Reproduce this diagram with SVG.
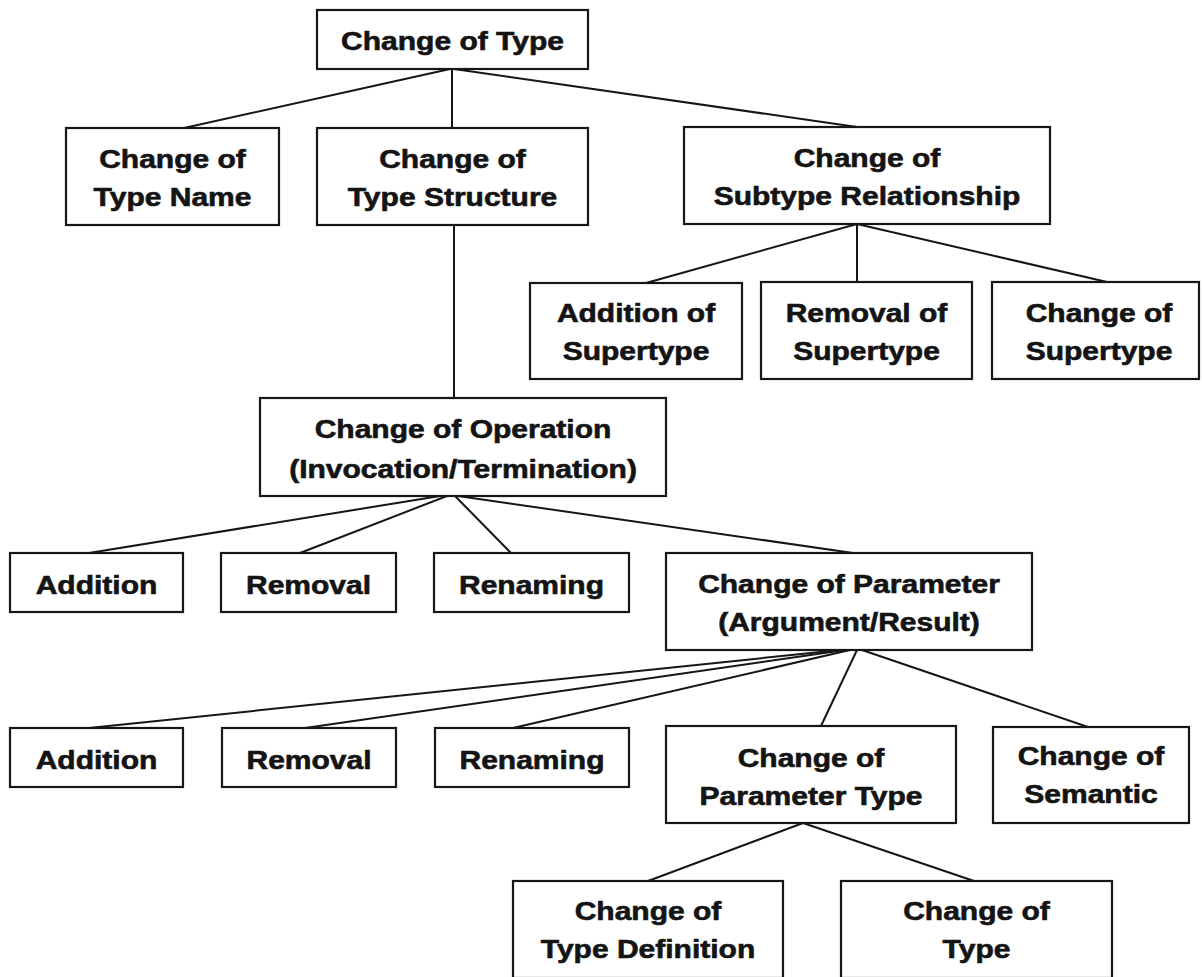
<svg xmlns="http://www.w3.org/2000/svg" width="1202" height="977" viewBox="0 0 1202 977">
<style>
  rect.box { fill: #ffffff; stroke: #161616; stroke-width: 2.2; }
  text { font-family: "Liberation Sans", Arial, sans-serif; font-weight: bold; font-size: 25px; fill: #141414; stroke: #141414; stroke-width: 0.6; text-anchor: middle; }
  .edges line { stroke: #161616; stroke-width: 2; }
</style>
<rect width="1202" height="977" fill="#ffffff"/>
<g class="edges" id="connectors">
  <line x1="450" y1="69" x2="184" y2="128"/>
  <line x1="452" y1="69" x2="452" y2="128"/>
  <line x1="454" y1="69" x2="857" y2="127"/>
  <line x1="857" y1="224" x2="646" y2="283"/>
  <line x1="857" y1="224" x2="857" y2="282"/>
  <line x1="857" y1="224" x2="1107" y2="282"/>
  <line x1="454" y1="225" x2="454" y2="398"/>
  <line x1="440" y1="496" x2="89" y2="553"/>
  <line x1="447" y1="496" x2="300" y2="553"/>
  <line x1="455" y1="496" x2="511" y2="553"/>
  <line x1="458" y1="496" x2="853" y2="553"/>
  <line x1="840" y1="650" x2="89" y2="728"/>
  <line x1="845" y1="650" x2="305" y2="728"/>
  <line x1="850" y1="650" x2="513" y2="728"/>
  <line x1="857" y1="650" x2="821" y2="726"/>
  <line x1="862" y1="650" x2="1088" y2="727"/>
  <line x1="803" y1="823" x2="648" y2="881"/>
  <line x1="803" y1="823" x2="974" y2="881"/>
</g>
<g id="change-of-type">
  <rect class="box" x="317" y="10" width="271" height="59"/>
  <text transform="translate(452.5 50) scale(1.2 1)">Change of Type</text>
</g>
<g id="change-of-type-name">
  <rect class="box" x="66" y="128" width="213" height="97"/>
  <text transform="translate(172.5 168) scale(1.2 1)">Change of</text>
  <text transform="translate(172.5 206) scale(1.2 1)">Type Name</text>
</g>
<g id="change-of-type-structure">
  <rect class="box" x="317" y="128" width="271" height="97"/>
  <text transform="translate(452.5 168) scale(1.2 1)">Change of</text>
  <text transform="translate(452.5 206) scale(1.2 1)">Type Structure</text>
</g>
<g id="change-of-subtype-relationship">
  <rect class="box" x="684" y="127" width="366" height="97"/>
  <text transform="translate(867 167) scale(1.2 1)">Change of</text>
  <text transform="translate(867 205) scale(1.2 1)">Subtype Relationship</text>
</g>
<g id="addition-of-supertype">
  <rect class="box" x="530" y="283" width="212" height="96"/>
  <text transform="translate(636 322) scale(1.2 1)">Addition of</text>
  <text transform="translate(636 360) scale(1.2 1)">Supertype</text>
</g>
<g id="removal-of-supertype">
  <rect class="box" x="761" y="282" width="211" height="97"/>
  <text transform="translate(866.5 322) scale(1.2 1)">Removal of</text>
  <text transform="translate(866.5 360) scale(1.2 1)">Supertype</text>
</g>
<g id="change-of-supertype">
  <rect class="box" x="992" y="282" width="207" height="97"/>
  <text transform="translate(1099 322) scale(1.2 1)">Change of</text>
  <text transform="translate(1099 360) scale(1.2 1)">Supertype</text>
</g>
<g id="change-of-operation">
  <rect class="box" x="260" y="398" width="406" height="98"/>
  <text transform="translate(463 438) scale(1.2 1)">Change of Operation</text>
  <text transform="translate(463 478) scale(1.2 1)">(Invocation/Termination)</text>
</g>
<g id="op-addition">
  <rect class="box" x="10" y="553" width="173" height="59"/>
  <text transform="translate(96.5 594) scale(1.2 1)">Addition</text>
</g>
<g id="op-removal">
  <rect class="box" x="221" y="553" width="175" height="59"/>
  <text transform="translate(308.5 594) scale(1.2 1)">Removal</text>
</g>
<g id="op-renaming">
  <rect class="box" x="434" y="553" width="195" height="59"/>
  <text transform="translate(531.5 594) scale(1.2 1)">Renaming</text>
</g>
<g id="change-of-parameter">
  <rect class="box" x="666" y="553" width="366" height="97"/>
  <text transform="translate(849 593) scale(1.2 1)">Change of Parameter</text>
  <text transform="translate(849 631) scale(1.2 1)">(Argument/Result)</text>
</g>
<g id="param-addition">
  <rect class="box" x="10" y="728" width="173" height="59"/>
  <text transform="translate(96.5 769) scale(1.2 1)">Addition</text>
</g>
<g id="param-removal">
  <rect class="box" x="222" y="728" width="174" height="59"/>
  <text transform="translate(309 769) scale(1.2 1)">Removal</text>
</g>
<g id="param-renaming">
  <rect class="box" x="435" y="728" width="194" height="59"/>
  <text transform="translate(532 769) scale(1.2 1)">Renaming</text>
</g>
<g id="change-of-parameter-type">
  <rect class="box" x="666" y="726" width="290" height="97"/>
  <text transform="translate(811 767) scale(1.2 1)">Change of</text>
  <text transform="translate(811 805) scale(1.2 1)">Parameter Type</text>
</g>
<g id="change-of-semantic">
  <rect class="box" x="993" y="727" width="196" height="96"/>
  <text transform="translate(1091 765) scale(1.2 1)">Change of</text>
  <text transform="translate(1091 803) scale(1.2 1)">Semantic</text>
</g>
<g id="change-of-type-definition">
  <rect class="box" x="513" y="881" width="270" height="97"/>
  <text transform="translate(648 920) scale(1.2 1)">Change of</text>
  <text transform="translate(648 958) scale(1.2 1)">Type Definition</text>
</g>
<g id="change-of-param-type-type">
  <rect class="box" x="841" y="881" width="271" height="97"/>
  <text transform="translate(976.5 920) scale(1.2 1)">Change of</text>
  <text transform="translate(976.5 958) scale(1.2 1)">Type</text>
</g>
</svg>
